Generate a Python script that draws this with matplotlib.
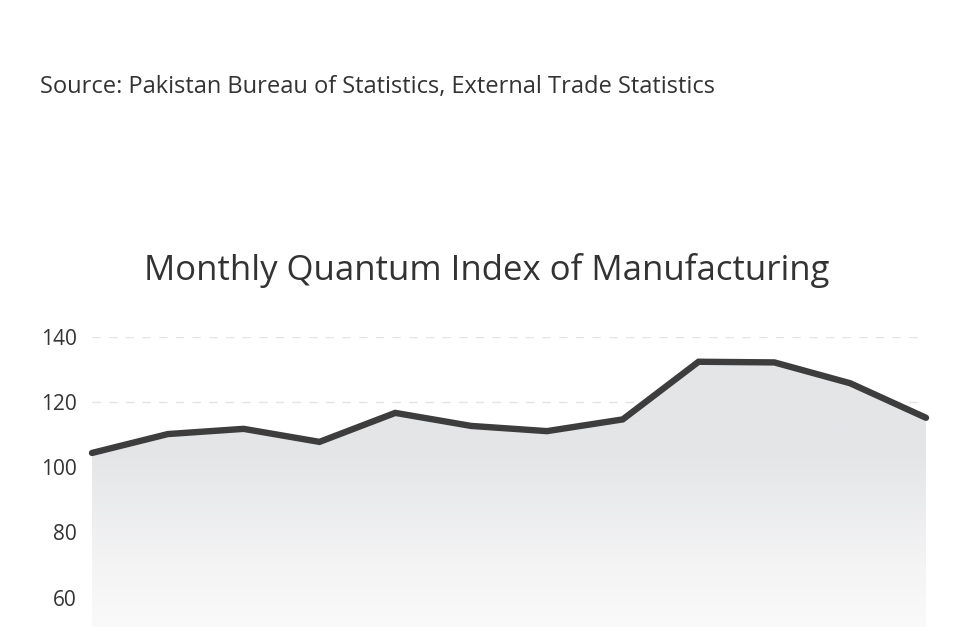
import matplotlib.pyplot as plt
import numpy as np
from matplotlib.colors import LinearSegmentedColormap

plt.rcParams["font.family"] = ["Open Sans", "DejaVu Sans"]

months = list(range(12))
qim = [104.4, 110.2, 111.8, 107.8, 116.7, 112.7, 111.1, 114.7, 132.4, 132.2, 125.8, 115.2]
yticks = [60, 80, 100, 120, 140]

W, H = 971, 627
fig = plt.figure(figsize=(W / 100, H / 100), dpi=100)
fig.patch.set_facecolor("white")

# axes runs below the bottom edge of the picture (picture is cropped)
ax = fig.add_axes([92 / W, 1 - 793 / H, 834 / W, (793 - 337) / H])
ax.set_xlim(months[0], months[-1])
ax.set_ylim(0, 140)

# gradient fill under the line
cmap = LinearSegmentedColormap.from_list("fade", ["#ffffff", "#ffffff", "#f4f4f5", "#e4e5e7", "#e4e5e7"])
grad = np.linspace(0, 1, 256).reshape(-1, 1)
poly = ax.fill_between(months, qim, 0, color="none", lw=0)
img = ax.imshow(grad, cmap=cmap, aspect="auto", origin="lower",
                extent=[months[0], months[-1], 0, 140], zorder=1)
img.set_clip_path(poly.get_paths()[0], transform=ax.transData)

ax.plot(months, qim, color="#3d3d3d", lw=4.6, solid_capstyle="round",
        solid_joinstyle="miter", zorder=3, clip_on=False)

ax.set_yticks(yticks)
ax.set_yticklabels([str(t) for t in yticks])
ax.set_xticks([])
ax.tick_params(axis="y", length=0, pad=11, labelsize=15, labelcolor="#333333")
ax.grid(axis="y", color="#e3e3e3", lw=1.0, linestyle=(0, (6, 6)), zorder=0)
ax.set_axisbelow(True)
for s in ax.spines.values():
    s.set_visible(False)

fig.text(40 / W, 1 - 87 / H, "Source: Pakistan Bureau of Statistics, External Trade Statistics",
         fontsize=17, color="#333333", va="center", ha="left")
fig.text(487 / W, 1 - 270 / H, "Monthly Quantum Index of Manufacturing",
         fontsize=25, color="#333333", va="center", ha="center")

fig.savefig("out.png", dpi=100, facecolor="white")
